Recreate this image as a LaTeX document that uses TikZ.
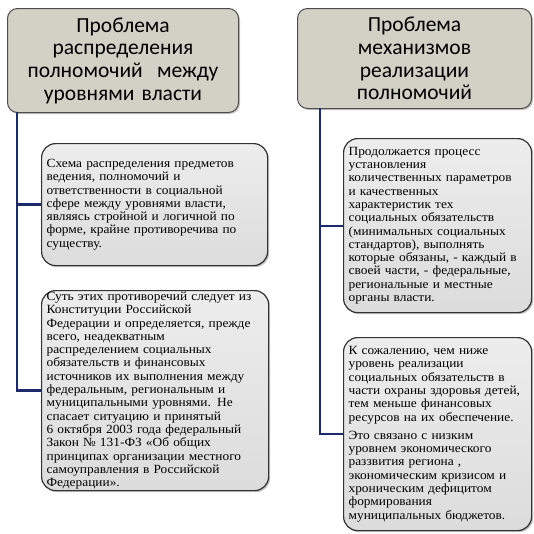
\documentclass[tikz,border=0pt]{standalone}
\usepackage{fontspec}
\setmainfont{Liberation Serif}[FakeStretch=1.07]
\newfontfamily\hdfont{Carlito}
\usetikzlibrary{shadows}
\definecolor{hdfill}{HTML}{D2D1C6}
\definecolor{bxtop}{HTML}{EDEDED}
\definecolor{bxbot}{HTML}{DCDCDC}
\definecolor{navy}{HTML}{1C2B6C}
\tikzset{
  hdbox/.style={draw=black!70, line width=1pt, fill=hdfill, rounded corners=10pt,
    align=center, anchor=north west, inner sep=0pt,
    font=\hdfont\fontsize{21.5}{22.7}\selectfont,
    drop shadow={shadow xshift=1.5pt, shadow yshift=-1.5pt, opacity=0.45}},
  txbox/.style={draw=black!80, line width=1.2pt, top color=bxtop, bottom color=bxbot,
    rounded corners=14pt,
    align=left, anchor=north west, inner xsep=5pt, inner ysep=1pt,
    font=\fontsize{12.5}{13.3}\selectfont,
    drop shadow={shadow xshift=1.5pt, shadow yshift=-1.5pt, opacity=0.5}},
  link/.style={draw=navy, line width=2.5pt},
  rlink/.style={draw=navy, line width=2pt}
}
\begin{document}
\begin{tikzpicture}[x=1pt,y=-1pt]
\useasboundingbox[fill=white] (0,0) rectangle (534,533);

\node[hdbox, minimum width=231pt, minimum height=104pt, text width=225pt] (h1) at (7,8)
  {Проблема\\распределения\\полномочий\ \ между\\уровнями власти};
\node[hdbox, minimum width=234pt, minimum height=100pt, text width=228pt] (h2) at (297,8)
  {Проблема\\механизмов\\реализации\\полномочий};

\node[txbox, minimum width=226pt, minimum height=122pt, text width=216pt] (b1) at (41,143)
  {Схема распределения предметов\\
   ведения, полномочий и\\
   ответственности в социальной\\
   сфере между уровнями власти,\\
   являясь стройной и логичной по\\
   форме, крайне противоречива по\\
   существу.};

\node[txbox, minimum width=227pt, minimum height=200pt, text width=217pt] (b2) at (41,290)
  {Суть этих противоречий следует из\\
   Конституции Российской\\
   Федерации и определяется, прежде\\
   всего, неадекватным\\
   распределением социальных\\
   обязательств и финансовых\\
   источников их выполнения между\\
   федеральным, региональным и\\
   муниципальными уровнями. Не\\
   спасает ситуацию и принятый\\
   6 октября 2003 года федеральный\\
   Закон № 131-ФЗ «Об общих\\
   принципах организации местного\\
   самоуправления в Российской\\
   Федерации».};

\node[txbox, minimum width=188pt, minimum height=174pt, text width=178pt] (b3) at (343,138)
  {Продолжается процесс\\
   установления\\
   количественных параметров\\
   и качественных\\
   характеристик тех\\
   социальных обязательств\\
   (минимальных социальных\\
   стандартов), выполнять\\
   которые обязаны, - каждый в\\
   своей части, - федеральные,\\
   региональные и местные\\
   органы власти.};

\node[txbox, minimum width=188pt, minimum height=193pt, text width=178pt] (b4) at (343,337)
  {К сожалению, чем ниже\\
   уровень реализации\\
   социальных обязательств в\\
   части охраны здоровья детей,\\
   тем меньше финансовых\\
   ресурсов на их обеспечение.\\[5pt]
   Это связано с низким\\
   уровнем экономического\\
   раззвития региона ,\\
   экономическим кризисом и\\
   хроническим дефицитом\\
   формирования\\
   муниципальных бюджетов.};

\coordinate (lx) at (17,112);
\coordinate (rx) at (320,108);
\draw[link] (lx) |- (b2.west);
\draw[link] (lx |- b1.west) -- (b1.west);
\draw[rlink] (rx) |- (b4.west);
\draw[rlink] (rx |- b3.west) -- (b3.west);
\end{tikzpicture}
\end{document}
